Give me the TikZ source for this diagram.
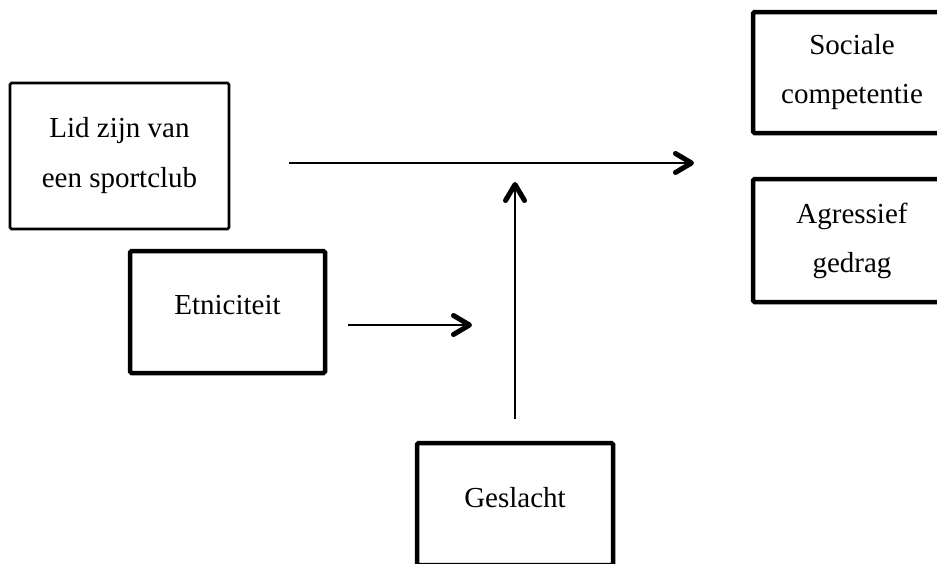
\documentclass[tikz,border=0pt]{standalone}
\usepackage{fontspec}
\setmainfont{Liberation Serif}
\usetikzlibrary{arrows.meta}

\begin{document}
\begin{tikzpicture}[
  x=1pt, y=-1pt,
  font=\fontsize{29}{49}\selectfont,
  every node/.style={inner sep=0pt, outer sep=0pt},
  factorbox/.style={draw, line width=4.5pt, rounded corners=1.5pt, align=center, text depth=14pt},
  outcomebox/.style={draw, line width=4.5pt, rounded corners=1.5pt, align=center},
  link/.style={line width=2.2pt, -{Straight Barb[length=16pt, width=19pt, line width=5pt, round]}},
]

% ── canvas ──
\useasboundingbox (0,0) rectangle (937,563);
\fill[white] (0,0) rectangle (937,563);
\clip (0,0) rectangle (937,563);

% ── predictors ──
\node[outcomebox, line width=2.6pt, minimum width=219pt, minimum height=146pt,
  font=\fontsize{29}{50}\selectfont] (club) at (119.5,156) {Lid zijn van\\een sportclub};
\node[factorbox, minimum width=195pt, minimum height=122pt] (etnic) at (227.5,312) {Etniciteit};
\node[factorbox, minimum width=196pt, minimum height=122pt] (gender) at (515,504) {Geslacht};

% ── outcomes ──
\node[outcomebox, minimum width=198pt, minimum height=121pt] (social) at (852,72.5) {Sociale\\competentie};
\node[outcomebox, minimum width=198pt, minimum height=123pt] (aggr) at (852,240.5) {Agressief\\gedrag};

% ── arrow ends ──
\coordinate (clubout) at (289,163);
\coordinate (effect) at (694,163);
\coordinate (etnicout) at (348,325);
\coordinate (etnicin) at (472,325);
\coordinate (genderout) at (515,419);
\coordinate (genderin) at (515,182);

% ── arrows ──
\draw[link] (clubout) -- (effect);
\draw[link] (etnicout) -- (etnicin);
\draw[link] (genderout) -- (genderin);

\end{tikzpicture}
\end{document}
